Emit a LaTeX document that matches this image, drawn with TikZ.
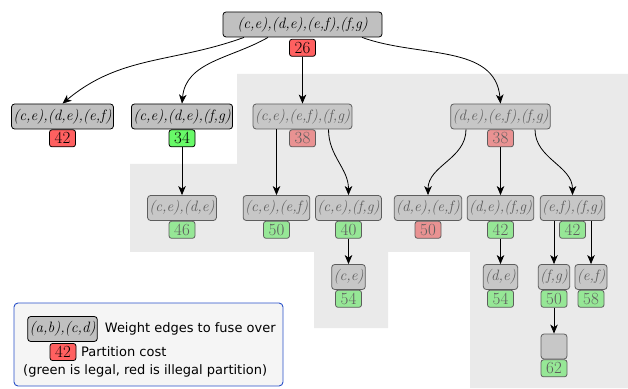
\documentclass[tikz,border=0pt]{standalone}
\usepackage{fontspec}
\usepackage{tikz}
\usetikzlibrary{positioning, arrows.meta}
\newfontfamily\legendfont{DejaVu Sans}
\newcommand{\pairfont}{\fontsize{15}{17}\selectfont\itshape}
\newcommand{\costfont}{\fontsize{17}{18}\selectfont}
\newcommand{\keyfont}{\legendfont\fontsize{13}{15}\selectfont}
\definecolor{pairgray}{RGB}{192,192,192}
\definecolor{costred}{RGB}{255,96,96}
\definecolor{costgreen}{RGB}{104,250,104}
\definecolor{shadegray}{RGB}{208,208,208}
\definecolor{legendblue}{RGB}{40,80,200}
\definecolor{legendfill}{RGB}{245,245,245}
\tikzset{pair/.style={draw, fill=pairgray, rounded corners=3pt, line width=0.8pt,
    font=\pairfont, minimum height=25pt, inner xsep=1.8pt, inner ysep=0pt}}
\tikzset{cost/.style={draw, rounded corners=2.5pt, line width=0.8pt,
    font=\costfont, minimum width=26pt, minimum height=17pt, inner sep=0pt}}
\tikzset{legal/.style={cost, fill=costgreen}, illegal/.style={cost, fill=costred}}
\tikzset{edge/.style={-{Stealth[length=9pt, width=7.5pt, inset=2.5pt]}, line width=0.8pt}}
\tikzset{keytext/.style={font=\keyfont, inner sep=0pt}}

\begin{document}
\begin{tikzpicture}[x=1pt, y=1pt]
  \useasboundingbox (0,0) rectangle (628,388);

  % ---- root
  \node[pair, minimum width=159pt] at (302.5,363.5) (T) {(c,e),(d,e),(e,f),(f,g)};
  \node[illegal, below=1.5pt of T] (cT) {26};

  % ---- first split
  \node[pair] at ( 62.5,271.5) (A) {(c,e),(d,e),(e,f)};
  \node[pair] at (182,  271.5) (B) {(c,e),(d,e),(f,g)};
  \node[pair] at (302.5,271.5) (C) {(c,e),(e,f),(f,g)};
  \node[pair] at (500.5,271.5) (D) {(d,e),(e,f),(f,g)};
  \node[illegal, below=0pt of A] (cA) {42};
  \node[legal,   below=0pt of B] (cB) {34};
  \node[illegal, below=0pt of C] (cC) {38};
  \node[illegal, below=0pt of D] (cD) {38};

  % ---- second split
  \node[pair] at (182,  180) (B1) {(c,e),(d,e)};
  \node[pair] at (276.5,180) (C1) {(c,e),(e,f)};
  \node[pair] at (348.5,180) (C2) {(c,e),(f,g)};
  \node[pair] at (428,  180) (D1) {(d,e),(e,f)};
  \node[pair] at (500.5,180) (D2) {(d,e),(f,g)};
  \node[pair] at (572.5,180) (D3) {(e,f),(f,g)};
  \node[legal,   below=0pt of B1] (cB1) {46};
  \node[legal,   below=0pt of C1] (cC1) {50};
  \node[legal,   below=0pt of C2] (cC2) {40};
  \node[illegal, below=0pt of D1] (cD1) {50};
  \node[legal,   below=0pt of D2] (cD2) {42};
  \node[legal,   below=0pt of D3] (cD3) {42};

  % ---- single edges
  \node[pair] at (348.5,111) (C2a) {(c,e)};
  \node[pair] at (500.5,111) (D2a) {(d,e)};
  \node[pair] at (554,  111) (D3a) {(f,g)};
  \node[pair] at (591,  111) (D3b) {(e,f)};
  \node[legal, below=0pt of C2a] (cC2a) {54};
  \node[legal, below=0pt of D2a] (cD2a) {54};
  \node[legal, below=0pt of D3a] (cD3a) {50};
  \node[legal, below=0pt of D3b] (cD3b) {58};

  % ---- nothing left
  \node[pair, minimum width=26pt] at (554,41.5) (E) {};
  \node[legal, below=0pt of E] (cE) {62};

  % ---- pruned part, laid over the nodes
  \fill[shadegray, opacity=0.45] (130,224) -- (237,224) -- (237,314) -- (628,314)
    -- (628,0) -- (470,0) -- (470,136) -- (388,136) -- (388,60) -- (314,60)
    -- (314,136) -- (130,136) -- cycle;

  % ================= edges ==================================================
  \draw[edge] ([xshift=-58.5pt]T.south) to[out=-160, in=40] (A.north);
  \draw[edge] ([xshift=-34.5pt]T.south) to[out=-150, in=85] (B.north);
  \draw[edge] (cT) -- (C);
  \draw[edge] ([xshift=59.5pt]T.south) to[out=-20, in=95] (D.north);

  \draw[edge] (cB) -- (B1);
  \draw[edge] (C.south -| C1.north) -- (C1.north);
  \draw[edge] ([xshift=26pt]C.south) to[out=-90, in=90] (C2.north);
  \draw[edge] ([xshift=-34.5pt]D.south) to[out=-90, in=90] (D1.north);
  \draw[edge] (cD) -- (D2);
  \draw[edge] ([xshift=34.5pt]D.south) to[out=-90, in=90] (D3.north);

  \draw[edge] (cC2) -- (C2a);
  \draw[edge] (cD2) -- (D2a);
  \draw[edge] (D3.south -| D3a.north) -- (D3a.north);
  \draw[edge] (D3.south -| D3b.north) -- (D3b.north);
  \draw[edge] (cD3a) -- (E);

  % ================= key ====================================================
  \node[draw=legendblue, fill=legendfill, rounded corners=4pt, line width=0.9pt,
        minimum width=269pt, minimum height=83pt] at (148.5,43.5) (key) {};
  \node[pair] at (62.5,59) (keypair) {(a,b),(c,d)};
  \node[keytext, right=7pt of keypair] (keypairtext) {Weight edges to fuse over};
  \node[illegal] at (63,36) (keycost) {42};
  \node[keytext, right=4.5pt of keycost] (keycosttext) {Partition cost};
  \node[keytext, anchor=west] at (23,17) (keynote) {(green is legal, red is illegal partition)};
\end{tikzpicture}
\end{document}
